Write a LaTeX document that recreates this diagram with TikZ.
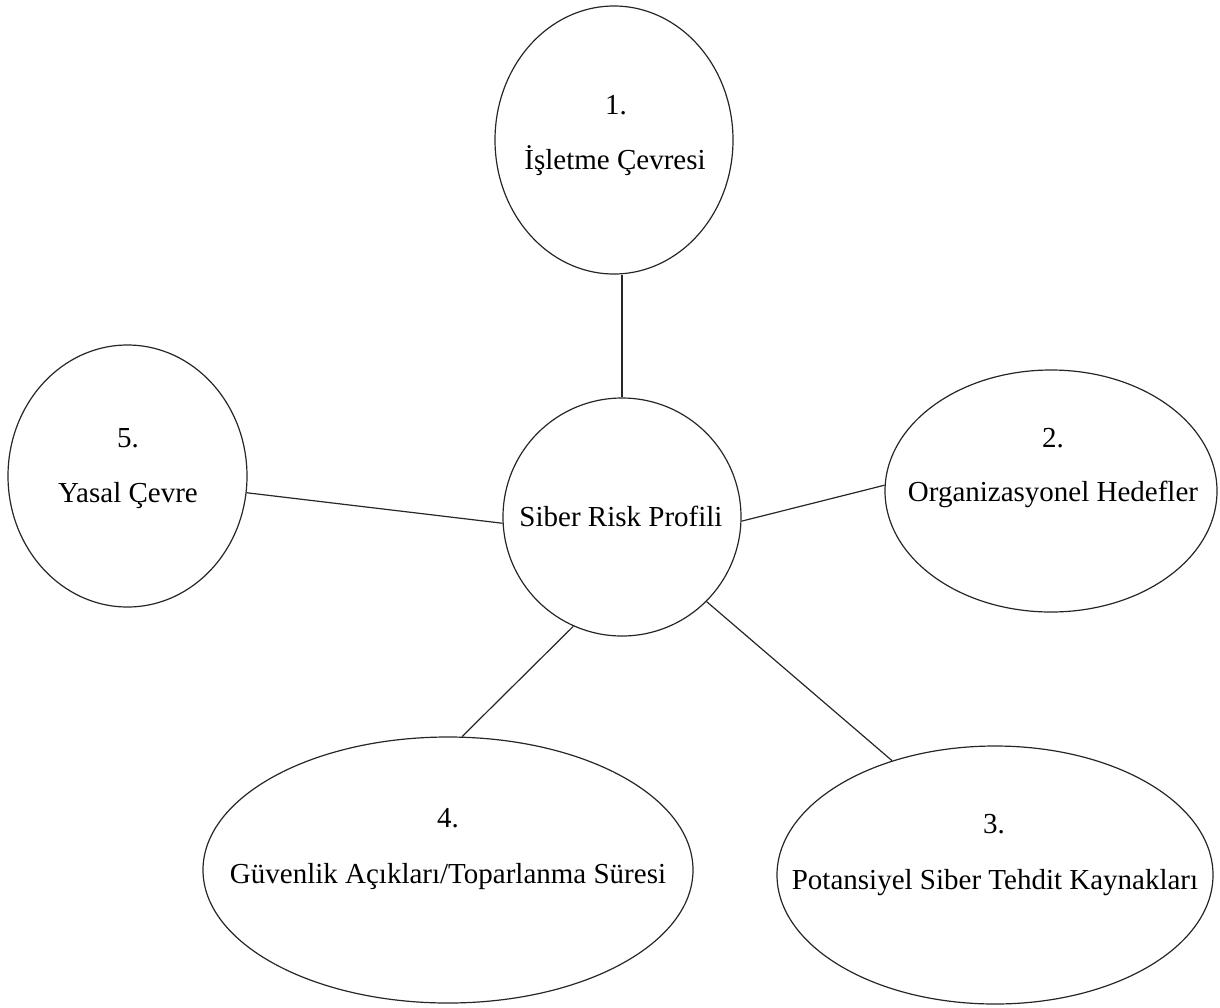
\documentclass[tikz,border=0pt]{standalone}
\usepackage{fontspec}
\setmainfont{Liberation Serif}
\usetikzlibrary{shapes.geometric}

\begin{document}
\begin{tikzpicture}[x=0.5pt, y=-0.5pt,
bubble/.style={ellipse, draw=black!85, line width=0.6pt, inner sep=0pt},
hub/.style={circle, draw=black!85, line width=0.6pt, inner sep=0pt, minimum size=119pt},
txt/.style={anchor=base, inner sep=0pt, font=\fontsize{14.5}{17}\selectfont},
link/.style={draw=black!85, line width=0.6pt}
]
\useasboundingbox (0,0) rectangle (1220,1007);

%Nodes
\node[hub]    (c)  at (622,517)   {};
\node[bubble, minimum width=119pt, minimum height=134pt] (e1) at (614,140)   {};
\node[bubble, minimum width=166pt, minimum height=121pt] (e2) at (1051,491)  {};
\node[bubble, minimum width=218pt, minimum height=129pt] (e3) at (995,875)   {};
\node[bubble, minimum width=245pt, minimum height=133pt] (e4) at (448,870)   {};
\node[bubble, minimum width=119.5pt, minimum height=131pt] (e5) at (127.5,476) {};

%Labels
\node[txt] (tc) at (621,526)  {Siber Risk Profili};
\node[txt] (n1) at (616,114)  {1.};
\node[txt] (t1) at (615,169)  {İşletme Çevresi};
\node[txt] (n2) at (1053,447) {2.};
\node[txt] (t2) at (1053,501) {Organizasyonel Hedefler};
\node[txt] (n3) at (994,833)  {3.};
\node[txt] (t3) at (995,889)  {Potansiyel Siber Tehdit Kaynakları};
\node[txt] (n4) at (448,827)  {4.};
\node[txt] (t4) at (448,883)  {Güvenlik Açıkları/Toparlanma Süresi};
\node[txt] (n5) at (128,447)  {5.};
\node[txt] (t5) at (128,502)  {Yasal Çevre};

%Lines
\draw[link] (c.north) -- (c.north |- e1.south);
\draw[link] (c.-2)    -- (e2.178);
\draw[link] (c.-45)   -- (e3.132);
\draw[link] (c.-114)  -- (e4.84);
\draw[link] (c.183)   -- (e5.-8);
\end{tikzpicture}
\end{document}
